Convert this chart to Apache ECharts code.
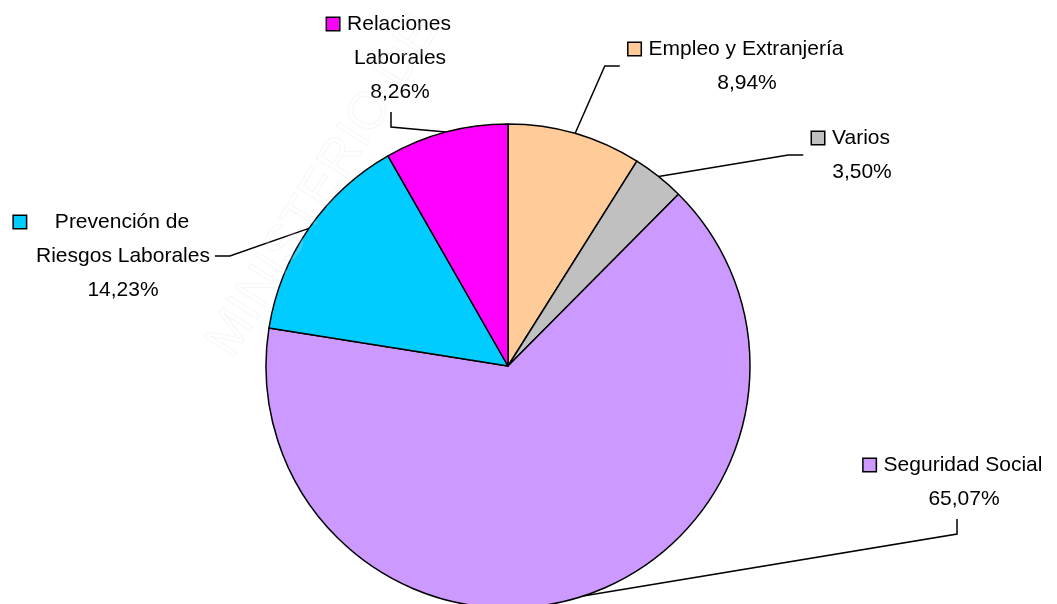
<!DOCTYPE html>
<html>
<head>
<meta charset="utf-8">
<script src="https://cdn.jsdelivr.net/npm/echarts@6/dist/echarts.min.js"></script>
<style>
  html, body { margin: 0; padding: 0; background: #fff; }
  #chart { width: 1057px; height: 604px; }
</style>
</head>
<body>
<div id="chart"></div>
<script>
// datos del gráfico
const categories = ['Empleo y Extranjería', 'Varios', 'Seguridad Social', 'Prevención de Riesgos Laborales', 'Relaciones Laborales']
const values = [8.94, 3.50, 65.07, 14.23, 8.26]
// texto de las etiquetas, partido en lineas como en el original
const labelText = [
  ['Empleo y Extranjería'],
  ['Varios'],
  ['Seguridad Social'],
  ['Prevención de', 'Riesgos Laborales'],
  ['Relaciones', 'Laborales']
]

const colors = ['#FFCC99', '#C0C0C0', '#CC99FF', '#00CCFF', '#FF00FF']
// centro de cada bloque de etiqueta (px) y lado por donde entra la linea
const labelPos = [[747, 66], [862, 155], [964, 482], [123, 256], [400, 58]]
const lineSide = ['left', 'left', 'bottom', 'right', 'bottom']
const lineDx = [0, 0, -7, -25, -9]
const gapW = [8, 8, 8, 29, 8]
const FONT = '"Liberation Sans", Arial, sans-serif'

const chart = echarts.init(document.getElementById('chart'), null, { renderer: 'canvas' })

const rich = {}
colors.forEach((c, i) => {
  rich['sq' + i] = {
    width: 12,
    height: 12,
    backgroundColor: c,
    borderColor: '#000',
    borderWidth: 1.5
  }
  rich['g' + i] = { width: gapW[i] }
})
rich.sp = { width: 14 }

const option = {
  animation: false,
  backgroundColor: '#fff',
  graphic: [
    {
      // marca de agua
      type: 'text',
      x: 242,
      y: 366,
      rotation: 1.012,
      z: 100,
      silent: true,
      style: {
        text: 'MINISTERIO DE',
        font: '52px ' + FONT,
        fill: 'rgba(255,255,255,0.16)',
        stroke: 'rgba(0,0,0,0.045)',
        lineWidth: 1,
        align: 'left',
        verticalAlign: 'bottom'
      }
    }
  ],
  series: [
    {
      type: 'pie',
      center: [508, 366],
      radius: 242,
      startAngle: 90,
      clockwise: true,
      avoidLabelOverlap: false,
      itemStyle: {
        borderColor: '#000',
        borderWidth: 1.5
      },
      label: {
        show: true,
        position: 'outside',
        color: '#000',
        fontFamily: FONT,
        fontSize: 21,
        lineHeight: 34,
        align: 'center',
        rich: rich,
        formatter: p => {
          const i = p.dataIndex
          const lines = labelText[i]
          let s = '{sq' + i + '|}{g' + i + '|}' + lines[0] + '{g' + i + '|}{sp|}'
          for (let k = 1; k < lines.length; k++) s += '\n' + lines[k]
          s += '\n' + values[i].toFixed(2).replace('.', ',') + '%'
          return s
        }
      },
      labelLine: {
        show: true,
        length: 20,
        length2: 20,
        lineStyle: { color: '#000', width: 1.5 }
      },
      labelLayout: params => {
        const i = params.dataIndex
        const cx = labelPos[i][0]
        const cy = labelPos[i][1]
        const w = params.labelRect.width
        const h = params.labelRect.height
        const res = { x: cx, y: cy, align: 'center', verticalAlign: 'middle' }
        const pts = params.labelLinePoints
        if (pts && pts.length) {
          const anchor = pts[0]
          let end, elbow
          if (lineSide[i] === 'left') {
            end = [cx - w / 2 - 8 + lineDx[i], cy]
            elbow = [end[0] - 15, cy]
          } else if (lineSide[i] === 'right') {
            end = [cx + w / 2 + 7 + lineDx[i], cy]
            elbow = [end[0] + 15, cy]
          } else {
            end = [cx + lineDx[i], cy + h / 2 + 3]
            elbow = [end[0], end[1] + 15]
          }
          res.labelLinePoints = [anchor, elbow, end]
        }
        return res
      },
      data: categories.map((name, i) => ({
        name: name,
        value: values[i],
        itemStyle: { color: colors[i] }
      }))
    }
  ]
}

chart.setOption(option)
</script>
</body>
</html>
